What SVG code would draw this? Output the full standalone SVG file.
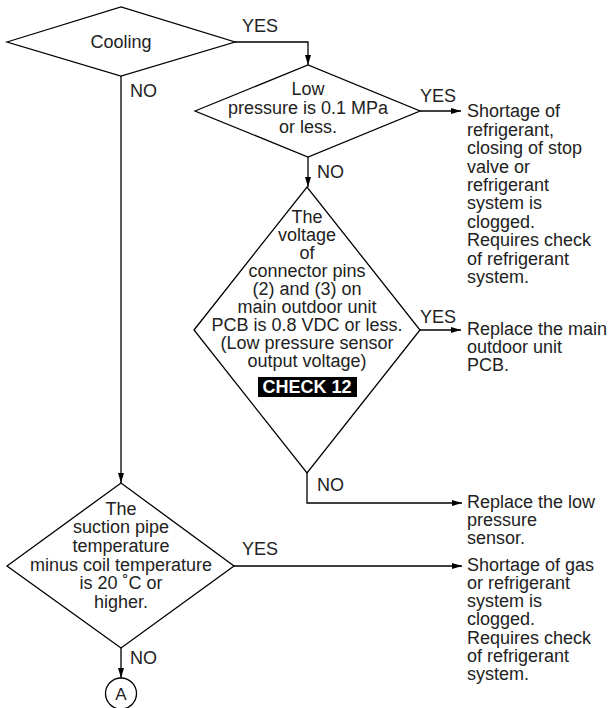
<svg xmlns="http://www.w3.org/2000/svg" width="614" height="708" viewBox="0 0 614 708">
<style>
text{font-family:"Liberation Sans",Arial,sans-serif;font-size:18px;fill:#222}
.c{text-anchor:middle}
.shape{fill:none;stroke:#000;stroke-width:1.3}
.ln{fill:none;stroke:#000;stroke-width:1.3}
.chk{font-weight:bold;fill:#fff}
</style>
<defs>
<marker id="arr" viewBox="0 0 10 6" refX="10" refY="3" markerWidth="10" markerHeight="6" markerUnits="userSpaceOnUse" orient="auto">
<path d="M0,0 L10,3 L0,6 Z" fill="#000"/>
</marker>
</defs>
<rect width="614" height="708" fill="#fff"/>
<g id="connectors">
<polyline class="ln" points="235,42 308,42 308,65" marker-end="url(#arr)"/>
<line class="ln" x1="121" y1="76" x2="121" y2="483" marker-end="url(#arr)"/>
<line class="ln" x1="420" y1="111" x2="461" y2="111" marker-end="url(#arr)"/>
<line class="ln" x1="308" y1="157" x2="308" y2="187" marker-end="url(#arr)"/>
<line class="ln" x1="420" y1="330" x2="461" y2="330" marker-end="url(#arr)"/>
<polyline class="ln" points="307,473 307,503 462,503" marker-end="url(#arr)"/>
<line class="ln" x1="234" y1="566" x2="462" y2="566" marker-end="url(#arr)"/>
<line class="ln" x1="121" y1="648" x2="121" y2="678" marker-end="url(#arr)"/>
<text x="242" y="32">YES</text>
<text x="130" y="97">NO</text>
<text x="420" y="102">YES</text>
<text x="317" y="178">NO</text>
<text x="420" y="323">YES</text>
<text x="317" y="491">NO</text>
<text x="242" y="555">YES</text>
<text x="130" y="664">NO</text>
</g>
<g id="cooling">
<polygon class="shape" points="7,42 121,7 235,42 121,76"/>
<text class="c" x="121" y="48">Cooling</text>
</g>
<g id="lowpressure">
<polygon class="shape" points="195,111 308,65 420,111 308,157"/>
<text class="c" x="308" y="95">Low</text>
<text class="c" x="308" y="114">pressure is 0.1 MPa</text>
<text class="c" x="308" y="133">or less.</text>
</g>
<g id="voltage">
<polygon class="shape" points="194,330 307,187 420,330 307,473"/>
<text class="c" x="307" y="223">The</text>
<text class="c" x="307" y="241">voltage</text>
<text class="c" x="307" y="259">of</text>
<text class="c" x="307" y="277">connector pins</text>
<text class="c" x="307" y="295">(2) and (3) on</text>
<text class="c" x="307" y="313">main outdoor unit</text>
<text class="c" x="307" y="331">PCB is 0.8 VDC or less.</text>
<text class="c" x="307" y="349">(Low pressure sensor</text>
<text class="c" x="307" y="367">output voltage)</text>
<rect x="258" y="377" width="99" height="20" fill="#000"/>
<text class="c chk" x="307" y="393">CHECK 12</text>
</g>
<g id="suction">
<polygon class="shape" points="7,566 121,483 234,566 121,648"/>
<text class="c" x="121" y="515">The</text>
<text class="c" x="121" y="533">suction pipe</text>
<text class="c" x="121" y="552">temperature</text>
<text class="c" x="121" y="571">minus coil temperature</text>
<text class="c" x="121" y="589">is 20 ˚C or</text>
<text class="c" x="121" y="608">higher.</text>
</g>
<g id="connectorA">
<circle class="shape" cx="121" cy="693.5" r="15.5"/>
<text class="c" x="121" y="700" style="font-size:17px">A</text>
</g>
<g id="result1">
<text x="467" y="117">Shortage of</text>
<text x="467" y="135.5">refrigerant,</text>
<text x="467" y="154">closing of stop</text>
<text x="467" y="172.5">valve or</text>
<text x="467" y="191">refrigerant</text>
<text x="467" y="209">system is</text>
<text x="467" y="227.5">clogged.</text>
<text x="467" y="246">Requires check</text>
<text x="467" y="264.5">of refrigerant</text>
<text x="467" y="283">system.</text>
</g>
<g id="result2">
<text x="467" y="335">Replace the main</text>
<text x="467" y="353">outdoor unit</text>
<text x="467" y="371">PCB.</text>
</g>
<g id="result3">
<text x="467" y="508">Replace the low</text>
<text x="467" y="526">pressure</text>
<text x="467" y="544">sensor.</text>
</g>
<g id="result4">
<text x="467" y="571">Shortage of gas</text>
<text x="467" y="589">or refrigerant</text>
<text x="467" y="607">system is</text>
<text x="467" y="625">clogged.</text>
<text x="467" y="643.5">Requires check</text>
<text x="467" y="661.5">of refrigerant</text>
<text x="467" y="680">system.</text>
</g>
</svg>
